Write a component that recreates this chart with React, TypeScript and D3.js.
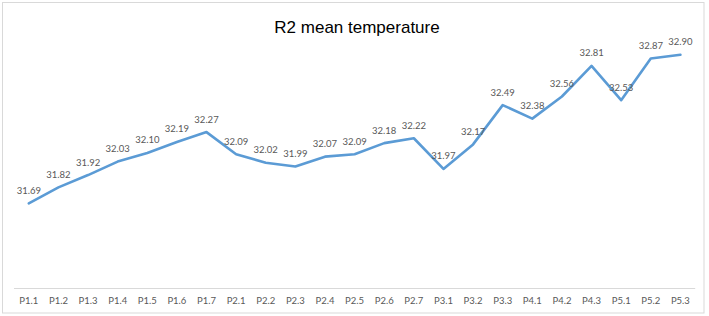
import React from "react";
import * as d3 from "d3";

const categories = [
  "P1.1", "P1.2", "P1.3", "P1.4", "P1.5", "P1.6", "P1.7",
  "P2.1", "P2.2", "P2.3", "P2.4", "P2.5", "P2.6", "P2.7",
  "P3.1", "P3.2", "P3.3",
  "P4.1", "P4.2", "P4.3",
  "P5.1", "P5.2", "P5.3",
];
const temperatures = [
  31.69, 31.82, 31.92, 32.03, 32.10, 32.19, 32.27,
  32.09, 32.02, 31.99, 32.07, 32.09, 32.18, 32.22,
  31.97, 32.17, 32.49,
  32.38, 32.56, 32.81,
  32.53, 32.87, 32.90,
];
const yDomain = [31, 33];
const title = "R2 mean temperature";

const W = 709;
const H = 316;
const plot = { left: 14, right: 695.2, top: 42.5, bottom: 288 };

export default function App() {
  const x = d3
    .scalePoint<string>()
    .domain(categories)
    .range([plot.left, plot.right])
    .padding(0.5);
  const y = d3.scaleLinear().domain(yDomain).range([plot.bottom, plot.top]);

  const data = categories.map((c, i) => ({ c, v: temperatures[i] }));
  const line = d3
    .line<{ c: string; v: number }>()
    .x((d) => x(d.c) as number)
    .y((d) => y(d.v));

  return (
    <svg
      width={W}
      height={H}
      style={{ position: "absolute", left: 0, top: 0, display: "block" }}
    >
      <rect x={0} y={0} width={W} height={H} fill="#ffffff" />
      <rect
        x={2.5}
        y={2.5}
        width={701.5}
        height={310.5}
        fill="#ffffff"
        stroke="#d9d9d9"
        strokeWidth={1}
      />
      <text
        x={357}
        y={33}
        textAnchor="middle"
        fontFamily="'Liberation Sans', Arial, sans-serif"
        fontSize={17}
        fill="#000000"
      >
        {title}
      </text>
      <line
        x1={plot.left}
        x2={plot.right}
        y1={plot.bottom + 0.5}
        y2={plot.bottom + 0.5}
        stroke="#d9d9d9"
        strokeWidth={1}
      />
      {categories.map((c) => (
        <text
          key={c}
          x={x(c)}
          y={304}
          textAnchor="middle"
          fontFamily="Lato, 'Open Sans', sans-serif"
          fontSize={9.5}
          fill="#595959"
        >
          {c}
        </text>
      ))}
      <path
        d={line(data) ?? ""}
        fill="none"
        stroke="#5b9bd5"
        strokeWidth={2.6}
        strokeLinejoin="round"
        strokeLinecap="round"
      />
      {data.map((d) => (
        <text
          key={d.c}
          x={x(d.c)}
          y={y(d.v) - 9.5}
          textAnchor="middle"
          fontFamily="Lato, 'Open Sans', sans-serif"
          fontSize={9.5}
          fill="#595959"
        >
          {d.v.toFixed(2)}
        </text>
      ))}
    </svg>
  );
}
